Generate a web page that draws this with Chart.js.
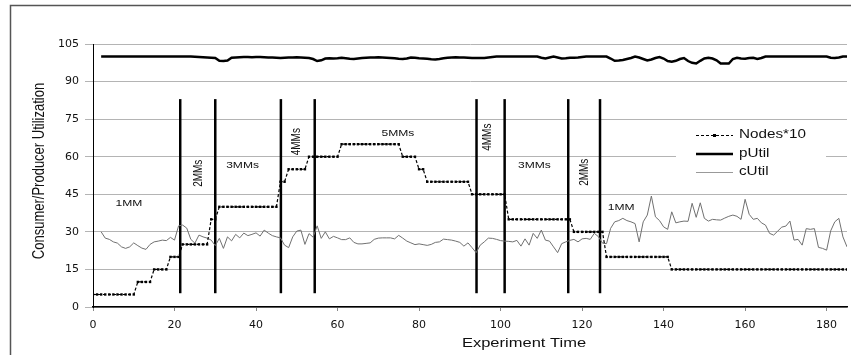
<!DOCTYPE html>
<html>
<head>
<meta charset="utf-8">
<script src="https://cdn.jsdelivr.net/npm/chart.js@4.4.1/dist/chart.umd.min.js"></script>
<style>
  html, body { margin: 0; padding: 0; background: #fff; }
  #wrap { width: 851px; height: 355px; }
</style>
</head>
<body>
<div id="wrap"><canvas id="chart" width="851" height="355"></canvas></div>
<script>
// Nodes*10, one sample per time unit from t = 0
let nodesStart = 0;
let nodes10 = [
    5, 5, 5, 5, 5, 5, 5, 5, 5, 5, 5,
    10, 10, 10, 10,
    15, 15, 15, 15,
    20, 20, 20,
    25, 25, 25, 25, 25, 25, 25,
    35, 35,
    40, 40, 40, 40, 40, 40, 40, 40, 40, 40, 40, 40, 40, 40, 40,
    50, 50,
    55, 55, 55, 55, 55,
    60, 60, 60, 60, 60, 60, 60, 60,
    65, 65, 65, 65, 65, 65, 65, 65, 65, 65, 65, 65, 65, 65, 65,
    60, 60, 60, 60,
    55, 55,
    50, 50, 50, 50, 50, 50, 50, 50, 50, 50, 50,
    45, 45, 45, 45, 45, 45, 45, 45, 45,
    35, 35, 35, 35, 35, 35, 35, 35, 35, 35, 35, 35, 35, 35, 35, 35,
    30, 30, 30, 30, 30, 30, 30, 30,
    20, 20, 20, 20, 20, 20, 20, 20, 20, 20, 20, 20, 20, 20, 20, 20,
    15, 15, 15, 15, 15, 15, 15, 15, 15, 15, 15, 15, 15, 15, 15, 15, 15, 15, 15, 15, 15, 15,
    15, 15, 15, 15, 15, 15, 15, 15, 15, 15, 15, 15, 15, 15, 15, 15, 15, 15, 15, 15, 15, 15
];

// producer / consumer utilization, one sample per time unit from t = 2
let utilStart = 2;
let pUtil = [
    100, 100, 100, 100, 100, 100, 100, 100, 100, 100,
    100, 100, 100, 100, 100, 100, 100, 100, 100, 100,
    100, 100, 100, 99.9, 99.8, 99.7, 99.6, 99.5, 99.4, 98.3,
    98.2, 98.4, 99.5, 99.6, 99.7, 99.8, 99.8, 99.7, 99.8, 99.8,
    99.7, 99.6, 99.6, 99.5, 99.4, 99.5, 99.6, 99.6, 99.7, 99.6,
    99.5, 99.4, 99, 98.2, 98.5, 99.2, 99.3, 99.2, 99.3, 99.5,
    99.3, 99.1, 99, 99.2, 99.4, 99.5, 99.6, 99.6, 99.7, 99.6,
    99.5, 99.4, 99.3, 99.1, 99, 99.2, 99.6, 99.5, 99.3, 99.2,
    99.1, 98.9, 98.8, 99, 99.3, 99.5, 99.6, 99.7, 99.6, 99.6,
    99.5, 99.4, 99.4, 99.4, 99.4, 99.6, 99.8, 100, 100, 100,
    100, 100, 100, 100, 100, 100, 100, 100, 99.5, 99.2,
    99.6, 100, 99.6, 99.2, 99.3, 99.5, 99.5, 99.6, 99.8, 100,
    100, 100, 100, 100, 100, 99.2, 98.3, 98.4, 98.6, 99,
    99.4, 100, 99.6, 99, 98.4, 98.8, 99.4, 99.8, 99.2, 98.2,
    97.9, 98.3, 99, 99.4, 98.2, 97.5, 97.2, 98.3, 99.2, 99.5,
    99.2, 98.5, 97.2, 97.2, 97.2, 99, 99.5, 99.2, 99.1, 99.4,
    99.5, 99, 99.4, 100, 100, 100, 100, 100, 100, 100,
    100, 100, 100, 100, 100, 100, 100, 100, 100, 99.5,
    99.4, 99.6, 100, 100
];
let cUtil = [
    30, 27.5, 27, 26, 25.5, 24, 23.4, 24, 25.6, 24.5,
    23.5, 23, 25, 26, 26.3, 26.7, 26.5, 27.8, 26.7, 32.4,
    32.7, 31.5, 27, 25.5, 28.7, 28, 27.5, 26.7, 24.5, 27.4,
    23.4, 28, 26.4, 29, 27.6, 29.5, 28.5, 29, 29.6, 28.3,
    30.7, 29.5, 28.5, 28, 27.6, 24.7, 23.7, 28, 30.3, 30.7,
    25, 29.3, 27.9, 32.4, 27.4, 30, 27.2, 28.2, 27.6, 26.9,
    26.9, 27.6, 25.8, 25.2, 25.2, 25.4, 25.6, 27, 27.5, 27.6,
    27.6, 27.6, 27.2, 28.6, 27.5, 26.3, 25.6, 24.9, 25.2, 24.9,
    24.6, 25, 25.8, 26, 27.1, 26.9, 26.7, 26.3, 25.8, 24.3,
    25.6, 23.7, 21.7, 24.7, 26, 27.5, 27.4, 27, 26.5, 26.3,
    26.2, 26, 26.6, 24.3, 27.2, 24.7, 29.4, 27.4, 30.7, 26.7,
    26.3, 24, 21.7, 25.3, 26, 26.6, 27, 26, 27.2, 27.4,
    27, 29.4, 28.1, 25.5, 25.3, 31.4, 34, 34.5, 35.4, 34.5,
    34, 33.3, 26, 34, 36.7, 44.3, 36, 34.5, 32, 31,
    38, 33.6, 34, 34.3, 34.2, 41.4, 35.8, 41.6, 35.4, 34.3,
    35, 34.8, 34.7, 35.5, 36.2, 36.7, 36.2, 35, 43, 37,
    35, 35.4, 33.6, 32.7, 29.4, 28.7, 30.3, 31.9, 32.3, 34.3,
    26.7, 27, 24.7, 31.3, 31, 31.3, 23.8, 23.4, 22.7, 30.4,
    34, 35.4, 28, 24
];

// boundaries between the MM phases, and the phase names
let phaseTimes = [21.4, 30, 46.1, 54.4, 94.1, 101, 116.6, 124.4];
let phaseSpan = [5.5, 83];
let phaseNames = ['1MM', '2MMs', '3MMs', '4MMs', '5MMs', '4MMs', '3MMs', '2MMs', '1MM'];
let phaseNameT = [8.8, 25.9, 36.7, 49.9, 74.8, 96.8, 108.3, 120.5, 129.6];
let phaseNameV = [41.5, 53.4, 56.6, 66, 69.4, 67.8, 56.6, 53.8, 39.6];
let phaseNameUp = [false, true, false, true, false, true, false, true, false];

let xTicks = [0, 20, 40, 60, 80, 100, 120, 140, 160, 180];
let yTicks = [0, 15, 30, 45, 60, 75, 90, 105];

function series(values, start) {
    return values.map((v, i) => ({ x: start + i, y: v }));
}

let datasets = [
    {
        label: 'Nodes*10', data: series(nodes10, nodesStart),
        borderColor: '#000', borderWidth: 1.2, borderDash: [3, 2],
        pointStyle: 'rect', pointRadius: 1.7, pointBorderWidth: 0,
        pointBackgroundColor: '#000'
    },
    {
        label: 'pUtil', data: series(pUtil, utilStart),
        borderColor: '#000', borderWidth: 2.5, pointRadius: 0
    },
    {
        label: 'cUtil', data: series(cUtil, utilStart),
        borderColor: '#707070', borderWidth: 1, pointRadius: 0
    }
];
phaseTimes.forEach(t => {
    datasets.push({
        label: 'phase', data: [{ x: t, y: phaseSpan[0] }, { x: t, y: phaseSpan[1] }],
        borderColor: '#000', borderWidth: 2.5, pointRadius: 0
    });
});

// the source figure was stretched sideways, so text is widened too
let stretch = 1.27;
function text(ctx, str, x, y, font, align, upright) {
    ctx.save();
    ctx.translate(x, y);
    ctx.scale(stretch, 1);
    if (upright) ctx.rotate(-Math.PI / 2);
    ctx.font = font;
    ctx.fillStyle = '#111';
    ctx.textAlign = align;
    ctx.textBaseline = 'middle';
    ctx.fillText(str, 0, 0);
    ctx.restore();
}

let extras = {
    id: 'extras',
    afterDatasetsDraw(chart) {
        let ctx = chart.ctx;
        let xs = chart.scales.x, ys = chart.scales.y;

        phaseNames.forEach((name, i) => {
            let up = phaseNameUp[i];
            text(ctx, name, xs.getPixelForValue(phaseNameT[i]), ys.getPixelForValue(phaseNameV[i]),
                (up ? '10px' : '9.5px') + ' "Liberation Sans", Arial, sans-serif', 'center', up);
        });

        // legend
        ctx.save();
        ctx.fillStyle = '#fff';
        ctx.fillRect(676, 125, 150, 57);
        ctx.strokeStyle = '#000';
        ctx.lineWidth = 1.2;
        ctx.setLineDash([3, 2]);
        ctx.beginPath(); ctx.moveTo(696, 135.5); ctx.lineTo(733, 135.5); ctx.stroke();
        ctx.setLineDash([]);
        ctx.fillStyle = '#000';
        ctx.fillRect(713, 134, 3, 3);
        ctx.lineWidth = 2.5;
        ctx.beginPath(); ctx.moveTo(696, 154); ctx.lineTo(733, 154); ctx.stroke();
        ctx.strokeStyle = '#999';
        ctx.lineWidth = 1;
        ctx.beginPath(); ctx.moveTo(696, 172.5); ctx.lineTo(733, 172.5); ctx.stroke();
        ctx.restore();
        let lf = '12px "Liberation Sans", Arial, sans-serif';
        text(ctx, 'Nodes*10', 739, 135, lf, 'left');
        text(ctx, 'pUtil', 739, 154, lf, 'left');
        text(ctx, 'cUtil', 739, 172, lf, 'left');
    },
    afterDraw(chart) {
        let ctx = chart.ctx;
        let tf = '13px "Liberation Sans", Arial, sans-serif';
        text(ctx, 'Consumer/Producer Utilization', 39, 171, tf, 'center', true);
        text(ctx, 'Experiment Time', 524, 343, tf, 'center');
        ctx.save();
        ctx.strokeStyle = '#555';
        ctx.lineWidth = 1.5;
        ctx.strokeRect(10.5, 5.5, 1000, 500);
        ctx.restore();
    }
};

let tickFont = { family: '"DejaVu Sans", sans-serif', size: 11 };

let config = {
    type: 'line',
    data: { datasets: datasets },
    options: {
        responsive: false,
        animation: false,
        layout: { padding: { top: 44, left: 0, right: 0, bottom: 0 } },
        plugins: { legend: { display: false }, tooltip: { enabled: false } },
        scales: {
            x: {
                type: 'linear', min: 0, max: 185,
                afterBuildTicks: s => { s.ticks = xTicks.map(v => ({ value: v })); },
                afterFit: s => { s.height = 48; },
                ticks: { font: tickFont, color: '#111', padding: 8, maxRotation: 0 },
                grid: { drawOnChartArea: false, drawTicks: true, tickLength: 4, color: '#888' },
                border: { color: '#000', width: 1.5 }
            },
            y: {
                min: 0, max: 105,
                afterBuildTicks: s => { s.ticks = yTicks.map(v => ({ value: v })); },
                afterFit: s => { s.width = 93; },
                ticks: { font: tickFont, color: '#111', padding: 6 },
                grid: { color: '#b4b4b4', tickLength: 8 },
                border: { color: '#000', width: 1 }
            }
        }
    },
    plugins: [extras]
};

let ctx = document.getElementById('chart');
let chart = new Chart(ctx, config);
</script>
</body>
</html>
